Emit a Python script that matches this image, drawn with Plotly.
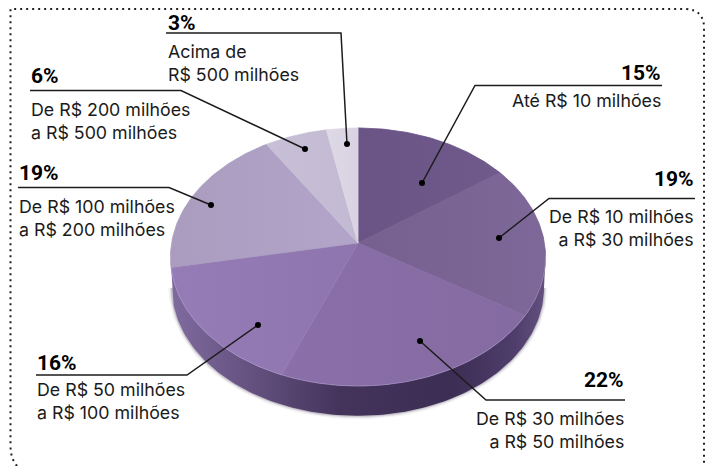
import numpy as np
import plotly.graph_objects as go

# ---- data ----
shares = [15, 19, 22, 16, 19, 6, 3]
percent_labels = ["15%", "19%", "22%", "16%", "19%", "6%", "3%"]
range_labels = [
    "Até R$ 10 milhões",
    "De R$ 10 milhões<br>a R$ 30 milhões",
    "De R$ 30 milhões<br>a R$ 50 milhões",
    "De R$ 50 milhões<br>a R$ 100 milhões",
    "De R$ 100 milhões<br>a R$ 200 milhões",
    "De R$ 200 milhões<br>a R$ 500 milhões",
    "Acima de<br>R$ 500 milhões",
]

# ---- styling / layout ----
slice_colors = [
    ("#6a5486", "#6f5a8b"),
    ("#75608f", "#7e6899"),
    ("#8a6fa8", "#846ba1"),
    ("#957cb6", "#8e75ae"),
    ("#a99cbf", "#b2a5c9"),
    ("#c8c0d7", "#c2b9d2"),
    ("#ded9e6", "#d8d2e2"),
]
CX, CY = 358.0, 243.0     # pie apex on the page
A, B, K = 186.4, 127.5, 0.1085   # projected radii and perspective
DEPTH = 31.0
# x anchor, rule y, rule far end x, elbow x, dot position, alignment, text offsets
callouts = [
    dict(x=662, y=85.5, far=662, elbow=475, dot=(422, 183), side="right", pct=0.5, txt=3),
    dict(x=695, y=198.5, far=695, elbow=549, dot=(499, 238), side="right", pct=-6.5, txt=6),
    dict(x=625, y=400, far=625, elbow=486, dot=(420, 341), side="right", pct=-7, txt=6.5),
    dict(x=36, y=375, far=36, elbow=187, dot=(258, 325), side="left", pct=1, txt=2.5),
    dict(x=18, y=187.5, far=18, elbow=169, dot=(211, 205), side="left", pct=-1.5, txt=7),
    dict(x=30, y=90.5, far=30, elbow=181, dot=(305, 149), side="left", pct=-1.5, txt=7),
    dict(x=167, y=33, far=166, elbow=341, dot=(347, 144), side="left", pct=3, txt=6.5),
]
FONT = "Inter"
BOLD_FONT = "Roboto"


def project(theta, scale=1.0, dy=0.0):
    d = 1 + K * np.cos(theta)
    return CX + scale * A * np.sin(theta) / d, CY + dy - scale * B * np.cos(theta) / d


fig = go.Figure()

# soft shadow below the side wall
lo, hi = np.arccos(-K), 2 * np.pi - np.arccos(-K)
arc = np.linspace(lo, hi, 160)
for w, alpha in [(7, 0.06), (4, 0.10), (2, 0.16)]:
    x, y = project(arc, 0.992, DEPTH)
    fig.add_trace(go.Scatter(x=x, y=y, mode="lines",
                             line=dict(color=f"rgba(50,35,70,{alpha})", width=w)))

# side wall
tx, ty = project(arc)
bx, by = project(arc, 0.992, DEPTH)
fig.add_trace(go.Scatter(
    x=np.r_[tx, bx[::-1]], y=np.r_[ty, by[::-1]], mode="lines", fill="toself",
    line=dict(width=0),
    fillgradient=dict(type="horizontal", colorscale=[
        [0.0, "#7f6b9e"], [0.2, "#675382"], [0.45, "#44345c"],
        [0.75, "#3c2d53"], [0.92, "#4f3e6c"], [1.0, "#64517f"]]),
))

# top face, one wedge per share
cum = np.cumsum([0] + shares) / sum(shares) * 2 * np.pi
for i in range(len(shares)):
    t = np.linspace(cum[i], cum[i + 1], max(8, shares[i] * 4))
    x, y = project(t)
    mid = slice_colors[i][0]
    fig.add_trace(go.Scatter(
        x=np.r_[CX, x, CX], y=np.r_[CY, y, CY], mode="lines", fill="toself",
        line=dict(width=0.8, color=mid),
        fillgradient=dict(type="horizontal", colorscale=[
            [0, slice_colors[i][0]], [1, slice_colors[i][1]]]),
    ))

# light edge along the front rim
fig.add_trace(go.Scatter(x=tx, y=ty, mode="lines",
                         line=dict(color="rgba(190,175,215,0.3)", width=1)))

# leader lines and dots
annotations = []
for c, pct, rng in zip(callouts, percent_labels, range_labels):
    fig.add_trace(go.Scatter(
        x=[c["far"], c["elbow"], c["dot"][0]], y=[c["y"], c["y"], c["dot"][1]],
        mode="lines", line=dict(color="#1c1c1c", width=1.5)))
    fig.add_trace(go.Scatter(x=[c["dot"][0]], y=[c["dot"][1]], mode="markers",
                             marker=dict(color="#000", size=6)))
    annotations.append(dict(
        x=c["x"], y=c["y"] + c["pct"], xref="x", yref="y", text=f"<b>{pct}</b>",
        xanchor=c["side"], yanchor="bottom", showarrow=False, borderpad=0,
        font=dict(family=BOLD_FONT, size=21, color="#000"), align=c["side"]))
    annotations.append(dict(
        x=c["x"], y=c["y"] + c["txt"], xref="x", yref="y", text=rng,
        xanchor=c["side"], yanchor="top", showarrow=False, borderpad=0,
        font=dict(family=FONT, size=17.8, color="#1a1a1a"), align=c["side"]))

# dotted frame with rounded corners (top right, bottom left)
shapes = [dict(
    type="path", xref="x", yref="y",
    path="M 17 466 Q 10.5 458 10.5 446 L 10.5 9 L 686 9 Q 704 10 704 28 L 704 466",
    line=dict(color="#222", width=2, dash="2px,4px"),
)]

fig.update_layout(
    width=709, height=466, margin=dict(l=0, r=0, t=0, b=0),
    paper_bgcolor="white", plot_bgcolor="white", showlegend=False,
    xaxis=dict(range=[0, 709], visible=False, fixedrange=True),
    yaxis=dict(range=[466, 0], visible=False, fixedrange=True),
    annotations=annotations, shapes=shapes, hovermode=False,
)
fig.write_html("out.html", config=dict(displayModeBar=False),
               post_script="document.body.style.margin='0';")
